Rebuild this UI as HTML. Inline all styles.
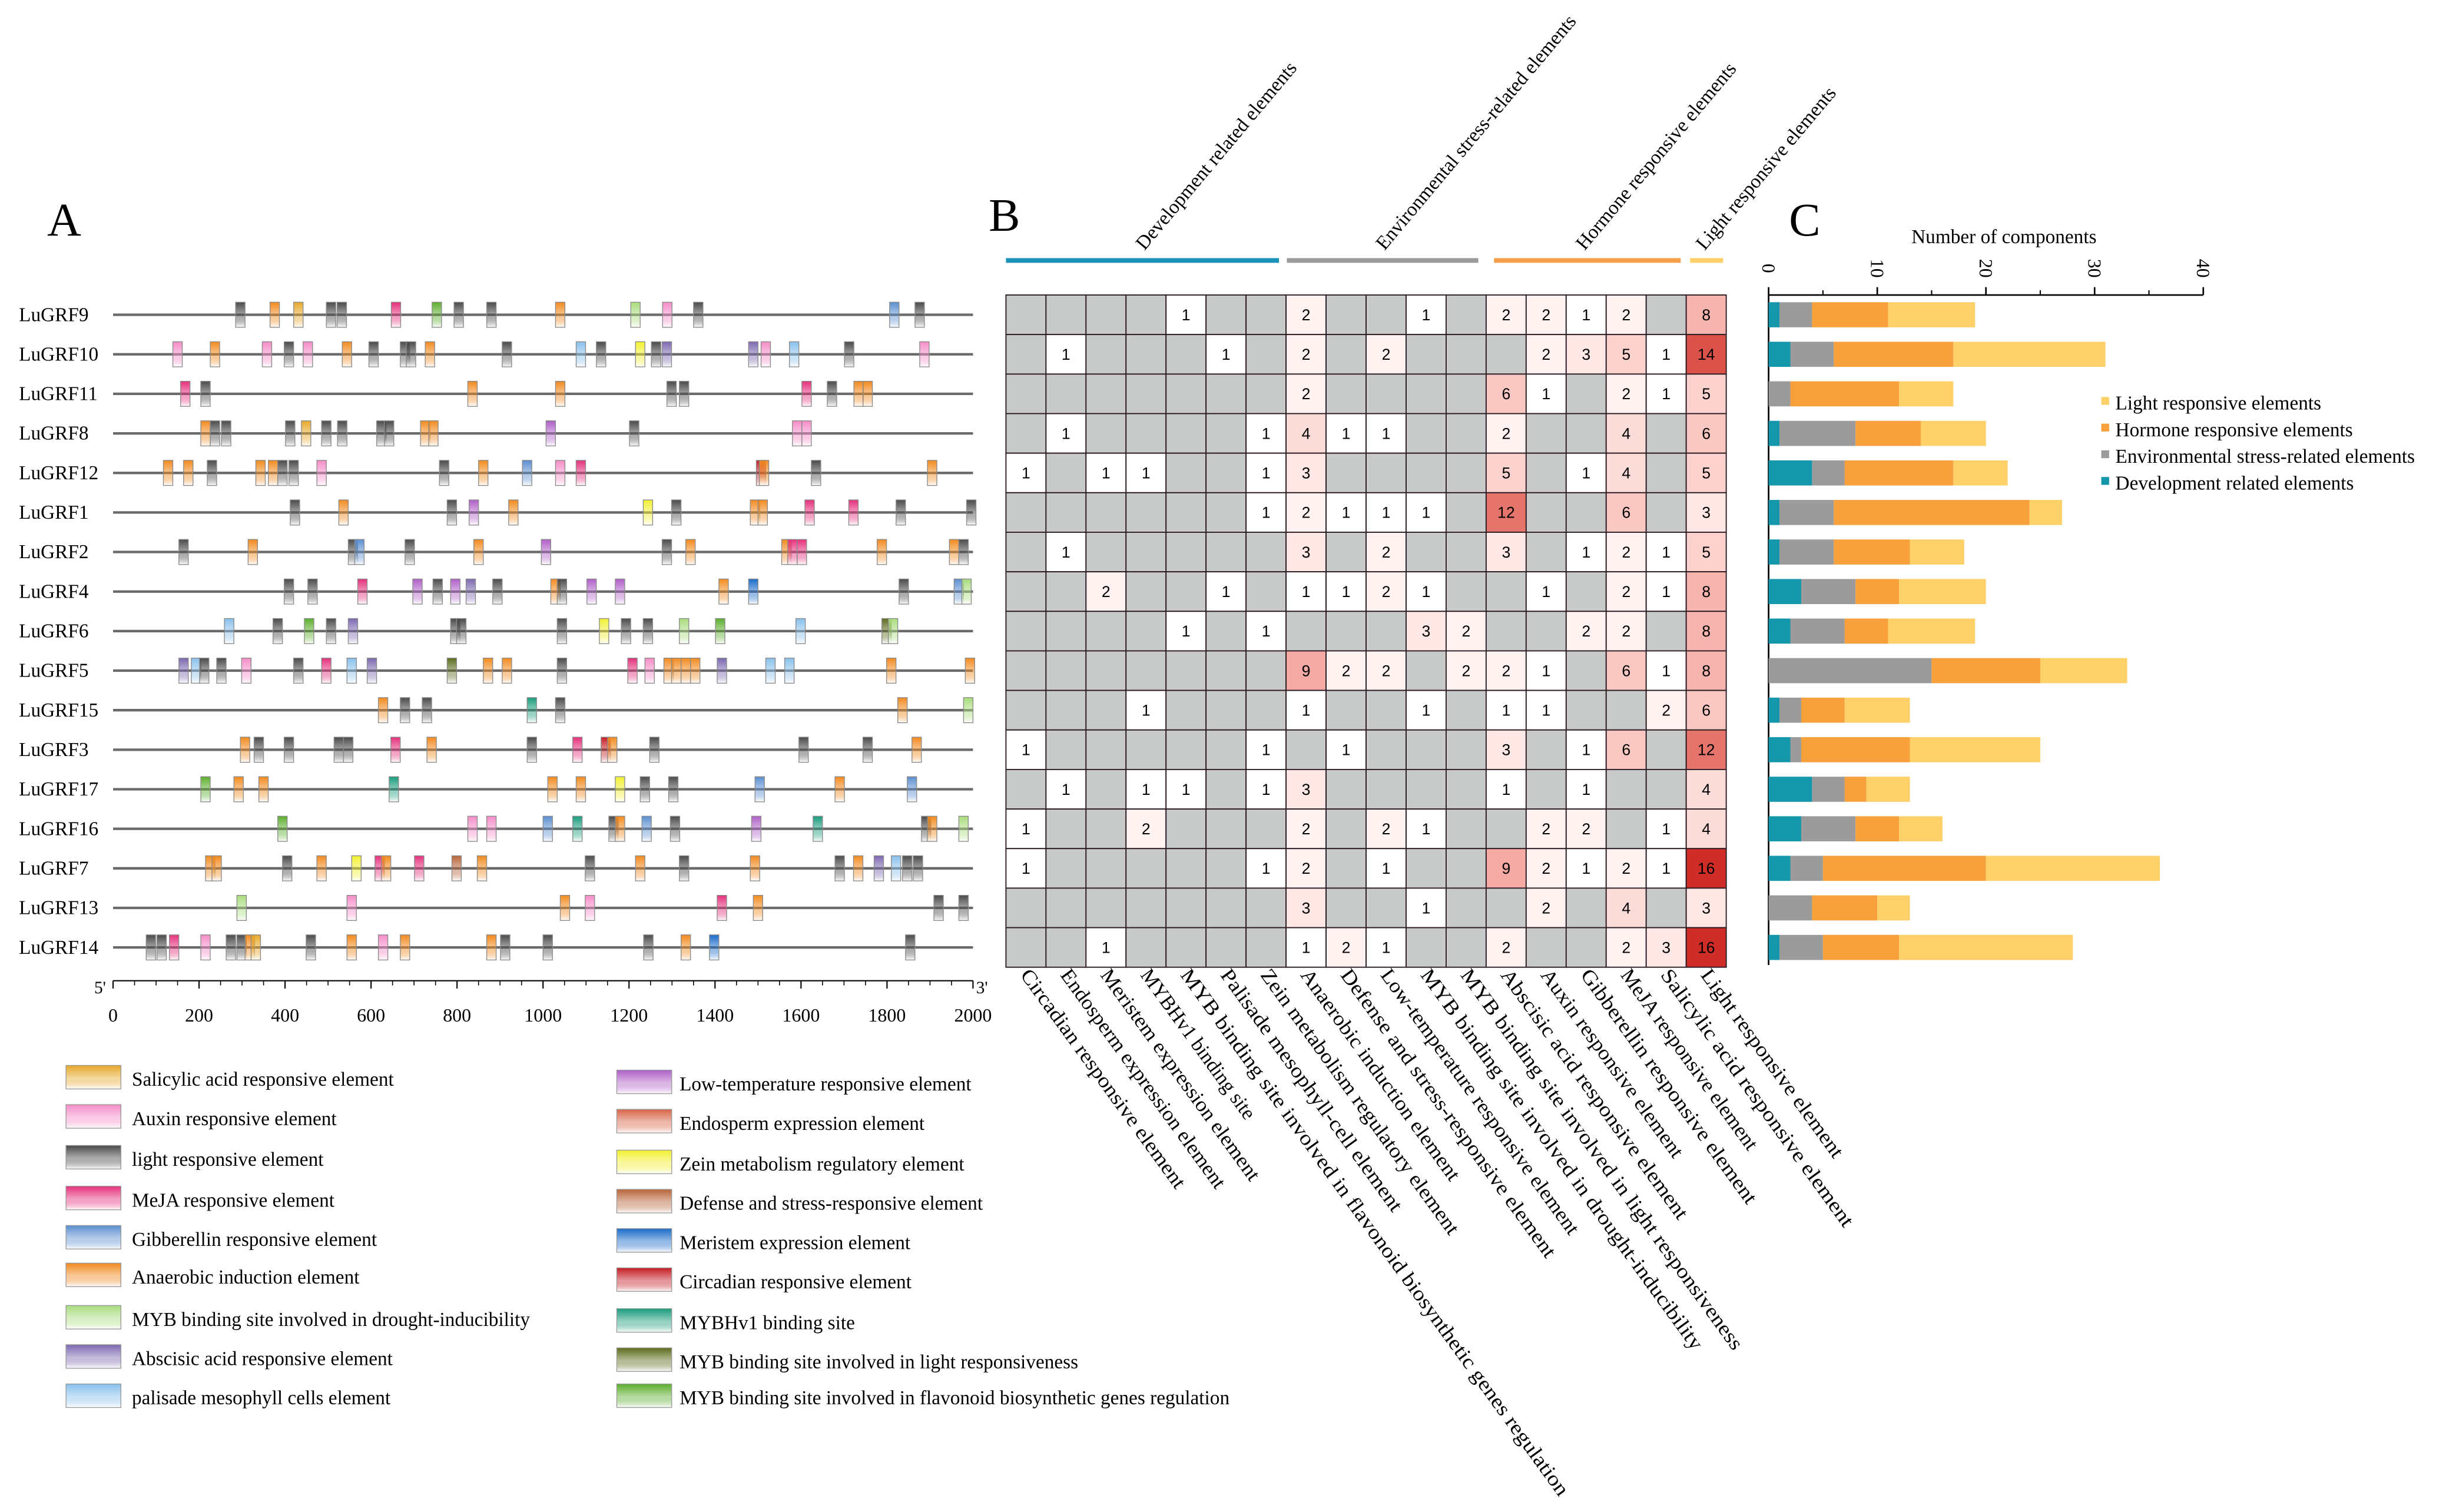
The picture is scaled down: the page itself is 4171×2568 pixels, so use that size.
<!DOCTYPE html>
<html><head><meta charset="utf-8">
<style>
html,body{margin:0;padding:0;background:#fff;overflow:hidden;}
svg{display:block;}
text{font-family:"Liberation Serif",serif;fill:#000;}
.num{font-family:"Liberation Sans",sans-serif;font-size:10px;text-anchor:middle;}
</style></head>
<body>
<svg id="fig" xmlns="http://www.w3.org/2000/svg" width="4171" height="2568" viewBox="0 0 1565 963.6">
<defs id="defs"></defs>
<text x="30" y="150" font-size="30">A</text>
<text x="630" y="147" font-size="30">B</text>
<text x="1140" y="150" font-size="30">C</text>
<g id="panelA"></g>
<g id="legendA"></g>
<g id="panelB"></g>
<g id="panelC"></g>
</svg>
<script>
const genes=["LuGRF9","LuGRF10","LuGRF11","LuGRF8","LuGRF12","LuGRF1","LuGRF2","LuGRF4","LuGRF6","LuGRF5","LuGRF15","LuGRF3","LuGRF17","LuGRF16","LuGRF7","LuGRF13","LuGRF14"];
const elementTypes=["sal","aux","light","meja","gib","anaer","mybdrought","aba","palisade","lowtemp","endo","zein","defense","meri","circ","mybhv1","myblight","flav"];
const typeLabels=["Salicylic acid responsive element","Auxin responsive element","light responsive element","MeJA responsive element","Gibberellin responsive element","Anaerobic induction element","MYB binding site involved in drought-inducibility","Abscisic acid responsive element","palisade mesophyll cells element","Low-temperature responsive element","Endosperm expression element","Zein metabolism regulatory element","Defense and stress-responsive element","Meristem expression element","Circadian responsive element","MYBHv1 binding site","MYB binding site involved in light responsiveness","MYB binding site involved in flavonoid biosynthetic genes regulation"];
const typeColors=["#e6a82a","#f58cc8","#4a4a4a","#e5307c","#5b8fd0","#f28a1e","#a8dc7c","#7c68b0","#88c0ec","#b060c8","#d86448","#f2f030","#b8643a","#1a6cc8","#c41c24","#1a9c7c","#5c6c1c","#5cae2c"];
const axisTicks=[0,200,400,600,800,1000,1200,1400,1600,1800,2000];
const sitePos=[
[296,376,431,507,532,658,753,804,880,1040,1215,1289,1361,1817,1876],
[150,237,358,409,453,544,606,679,693,737,916,1088,1135,1226,1263,1288,1489,1518,1584,1712,1887],
[168,215,836,1040,1299,1328,1613,1672,1734,1755],
[215,237,263,412,449,496,533,624,642,726,745,1018,1212,1591,1613],
[128,175,230,343,372,394,420,485,770,861,963,1040,1088,1507,1514,1635,1905],
[423,536,788,839,931,1244,1310,1493,1511,1620,1722,1832,1996],
[164,325,558,573,690,850,1007,1288,1343,1566,1580,1602,1788,1956,1978],
[409,464,580,708,755,796,832,894,1029,1044,1113,1179,1420,1489,1839,1967,1985],
[270,383,456,507,558,796,810,1044,1142,1193,1244,1328,1412,1599,1799,1814],
[164,193,212,252,310,431,496,555,602,788,872,916,1044,1208,1248,1292,1310,1332,1354,1416,1529,1573,1810,1993],
[628,679,730,974,1040,1836,1989],
[307,339,409,525,547,657,741,974,1080,1146,1161,1259,1606,1755,1869],
[215,292,350,653,1022,1088,1179,1237,1303,1504,1690,1858],
[394,836,880,1011,1080,1164,1179,1241,1307,1496,1639,1891,1905,1978],
[226,241,405,485,566,620,635,712,799,858,1109,1226,1328,1493,1690,1733,1781,1821,1847,1872],
[299,555,1051,1109,1416,1500,1920,1978],
[88,113,142,215,274,299,318,332,460,555,628,679,880,912,1011,1245,1332,1398,1854]
];
const siteType=[
[2,5,0,2,2,3,17,2,2,5,6,1,2,4,2],
[1,5,1,2,1,5,2,2,2,5,2,8,2,11,2,7,7,1,8,2,1],
[3,2,5,5,2,2,3,2,5,5],
[5,2,2,2,0,2,2,2,2,5,5,9,2,1,1],
[5,5,2,5,5,2,2,1,2,5,4,1,3,14,5,2,5],
[2,5,2,9,5,11,2,5,5,3,3,2,2],
[2,5,2,4,2,5,9,2,5,5,3,3,5,5,2],
[2,2,3,9,2,9,7,2,5,2,9,9,5,13,2,4,6],
[8,2,17,2,7,2,2,2,11,2,2,6,17,8,16,6],
[7,8,2,2,1,2,3,8,7,16,5,5,2,3,1,5,5,5,5,7,8,8,5,5],
[5,2,2,15,2,5,6],
[5,2,2,2,2,3,5,2,3,14,5,2,2,2,5],
[17,5,5,15,5,5,11,2,2,4,5,4],
[17,1,1,4,15,2,5,4,2,9,15,2,5,6],
[5,5,2,5,11,3,5,3,12,5,2,5,2,5,2,5,7,8,2,2],
[6,1,5,1,3,5,2,2],
[2,2,3,1,2,2,5,0,2,5,1,5,5,2,2,2,5,13,2]
];
const colLabels=["Circadian responsive element","Endosperm expression element","Meristem expression element","MYBHv1 binding site","MYB binding site involved in flavonoid biosynthetic genes regulation","Palisade mesophyll-cell element","Zein metabolism regulatory element","Anaerobic induction element","Defense and stress-responsive element","Low-temperature responsive element","MYB binding site involved in drought-inducibility","MYB binding site involved in light responsiveness","Abscisic acid responsive element","Auxin responsive element","Gibberellin responsive element","MeJA responsive element","Salicylic acid responsive element","Light responsive element"];
const groupNames=["Development related elements","Environmental stress-related elements","Hormone responsive elements","Light responsive elements"];
const groupCols=[[0,6],[7,11],[12,16],[17,17]];
const groupColors=["#1b93b8","#9a9a9a","#f4a04a","#ffcf6a"];
const counts=[
[0,0,0,0,1,0,0,2,0,0,1,0,2,2,1,2,0,8],
[0,1,0,0,0,1,0,2,0,2,0,0,0,2,3,5,1,14],
[0,0,0,0,0,0,0,2,0,0,0,0,6,1,0,2,1,5],
[0,1,0,0,0,0,1,4,1,1,0,0,2,0,0,4,0,6],
[1,0,1,1,0,0,1,3,0,0,0,0,5,0,1,4,0,5],
[0,0,0,0,0,0,1,2,1,1,1,0,12,0,0,6,0,3],
[0,1,0,0,0,0,0,3,0,2,0,0,3,0,1,2,1,5],
[0,0,2,0,0,1,0,1,1,2,1,0,0,1,0,2,1,8],
[0,0,0,0,1,0,1,0,0,0,3,2,0,0,2,2,0,8],
[0,0,0,0,0,0,0,9,2,2,0,2,2,1,0,6,1,8],
[0,0,0,1,0,0,0,1,0,0,1,0,1,1,0,0,2,6],
[1,0,0,0,0,0,1,0,1,0,0,0,3,0,1,6,0,12],
[0,1,0,1,1,0,1,3,0,0,0,0,1,0,1,0,0,4],
[1,0,0,2,0,0,0,2,0,2,1,0,0,2,2,0,1,4],
[1,0,0,0,0,0,1,2,0,1,0,0,9,2,1,2,1,16],
[0,0,0,0,0,0,0,3,0,0,1,0,0,2,0,4,0,3],
[0,0,1,0,0,0,0,1,2,1,0,0,2,0,0,2,3,16]
];
const devValues=[1,2,0,1,4,1,1,3,2,0,1,2,4,3,2,0,1];
const envValues=[3,4,2,7,3,5,5,5,5,15,2,1,3,5,3,4,4];
const hormoneValues=[7,11,10,6,10,18,7,4,4,10,4,10,2,4,15,6,7];
const lightValues=[8,14,5,6,5,3,5,8,8,8,6,12,4,4,16,3,16];
const cTicks=[0,10,20,30,40];
const cSeriesNames=["Light responsive elements","Hormone responsive elements","Environmental stress-related elements","Development related elements"];

const NS="http://www.w3.org/2000/svg";
function mk(tag,attrs,parent){const e=document.createElementNS(NS,tag);for(const k in attrs)e.setAttribute(k,attrs[k]);parent.appendChild(e);return e;}
const defs=document.getElementById('defs');
typeColors.forEach((c,i)=>{const g=mk('linearGradient',{id:'g'+i,x1:0,y1:0,x2:0,y2:1},defs);mk('stop',{offset:'0','stop-color':c},g);mk('stop',{offset:'0.55','stop-color':c,'stop-opacity':'0.45'},g);mk('stop',{offset:'1','stop-color':'#fff'},g);});

const top0=188, rowH=25.2;
const rowY=i=>top0+rowH*(i+0.5);
const A=document.getElementById('panelA');
const xA=bp=>72+bp*(620-72)/2000;
genes.forEach((gname,i)=>{
  const y=rowY(i);
  const t=mk('text',{x:12,y:y+4,'font-size':12.5},A);t.textContent=gname;
  
  
  const ln=mk('line',{x1:xA(0),x2:xA(2000),y1:y,y2:y,stroke:'#6a6a6a','stroke-width':1.6},A);
  
  
  sitePos[i].forEach((p,j)=>{
    const r=mk('rect',{x:xA(p)-3,y:y-8,width:6,height:16,fill:'url(#g'+siteType[i][j]+')',stroke:'#8a8a8a','stroke-width':0.5},A);
    
    
  });
});
const axY=625;
mk('line',{x1:xA(0),x2:xA(2000),y1:axY,y2:axY,stroke:'#000','stroke-width':0.8},A);
axisTicks.forEach((t,k)=>{
  mk('line',{x1:xA(t),x2:xA(t),y1:axY,y2:axY+5,stroke:'#000','stroke-width':0.8},A);
  for(let m=1;m<4&&k<axisTicks.length-1;m++){mk('line',{x1:xA(t+50*m),x2:xA(t+50*m),y1:axY,y2:axY+3,stroke:'#000','stroke-width':0.6},A);}
  const tx=mk('text',{x:xA(t),y:651,'font-size':12,'text-anchor':'middle'},A);tx.textContent=t;
  
  
});
let e5=mk('text',{x:60,y:633,'font-size':11},A);e5.textContent="5'";
let e3=mk('text',{x:622,y:633,'font-size':11},A);e3.textContent="3'";
const L=document.getElementById('legendA');
const legOrder=[[0,1,2,3,4,5,6,7,8],[9,10,11,12,13,14,15,16,17]];
const legY=[[689,714,740,766,791,815,842,867,892],[692,717,743,768,793,818,844,869,892]];
legOrder.forEach((col,c)=>{col.forEach((ti,k)=>{
  const bx=c?393:42, tx=c?433:84, y=legY[c][k];
  const r=mk('rect',{x:bx,y:y-10,width:35,height:15,fill:'url(#g'+ti+')',stroke:'#999','stroke-width':0.5},L);
  
  
  const t=mk('text',{x:tx,y:y+3,'font-size':12.5},L);t.textContent=typeLabels[ti];
  
  
});});

const B=document.getElementById('panelB');
const bx0=641, colW=25.5;
const colX=j=>bx0+colW*j;
function heatColor(v){
  if(v===0)return '#c8c9c9';
  const stops=[[1,[255,255,255]],[2,[255,242,240]],[4,[252,220,216]],[6,[249,200,195]],[9,[245,170,163]],[12,[229,117,108]],[16,[207,46,40]]];
  for(let i=1;i<stops.length;i++){if(v<=stops[i][0]){const[a,ca]=stops[i-1],[b,cb]=stops[i];const f=(v-a)/(b-a);return 'rgb('+ca.map((x,k)=>Math.round(x+(cb[k]-x)*f)).join(',')+')';}}
  return 'rgb(207,46,40)';
}
counts.forEach((row,i)=>{row.forEach((v,j)=>{
  const r=mk('rect',{x:colX(j),y:top0+rowH*i,width:colW,height:rowH,fill:heatColor(v),stroke:'#2a1a22','stroke-width':0.7},B);
  
  
  if(v>0){const t=mk('text',{class:'num',x:colX(j)+colW/2,y:rowY(i)+3.5},B);t.textContent=v;
    
    }
});});
colLabels.forEach((lab,j)=>{
  const x=colX(j)+colW/2-4, y=top0+rowH*counts.length+5;
  const t=mk('text',{x:0,y:0,'font-size':13,transform:`translate(${x},${y}) rotate(54)`,textLength:lab.length*6.05,lengthAdjust:'spacingAndGlyphs'},B);
  t.textContent=lab;
  
  
});
const grpLine=[[641,815],[820,942],[952,1071],[1077,1098]];
groupNames.forEach((g,k)=>{
  const ln=mk('line',{x1:grpLine[k][0],x2:grpLine[k][1],y1:166,y2:166,stroke:groupColors[k],'stroke-width':3},B);
  
  
  const cx=(colX(groupCols[k][0])+colX(groupCols[k][1]+1))/2;
  const t=mk('text',{x:0,y:0,'font-size':12.5,transform:`translate(${cx-1},${160}) rotate(-50)`},B);t.textContent=g;
  
  
});

const C=document.getElementById('panelC');
const cx0=1127, cx1=1404, cMax=40;
const xC=v=>cx0+v*(cx1-cx0)/cMax;
const axC=188;
mk('line',{x1:cx0,x2:cx1,y1:axC,y2:axC,stroke:'#000','stroke-width':1},C);
mk('line',{x1:cx0,x2:cx0,y1:axC,y2:615,stroke:'#000','stroke-width':1},C);
cTicks.forEach(t=>{
  mk('line',{x1:xC(t),x2:xC(t),y1:axC,y2:axC-5,stroke:'#000','stroke-width':1},C);
  if(t<cMax)mk('line',{x1:xC(t+5),x2:xC(t+5),y1:axC,y2:axC-3,stroke:'#000','stroke-width':0.8},C);
  const tx=mk('text',{x:0,y:0,'font-size':12,transform:`translate(${xC(t)-4},${171}) rotate(90)`,'text-anchor':'middle'},C);tx.textContent=t;
  
  
});
const ct=mk('text',{x:1277,y:155,'font-size':12.5,'text-anchor':'middle'},C);ct.textContent="Number of components";


const cCols=["#1496ab","#9b9b9b","#f7a03c","#fdd06a"];
genes.forEach((g,i)=>{
  const segs=[devValues[i],envValues[i],hormoneValues[i],lightValues[i]];
  let acc=0;
  segs.forEach((v,k)=>{
    if(v>0){const r=mk('rect',{x:xC(acc),y:rowY(i)-8,width:xC(acc+v)-xC(acc),height:16,fill:cCols[k]},C);
      
      }
    acc+=v;
  });
});
const legCY=[257,274,291,308], legCC=[cCols[3],cCols[2],cCols[1],cCols[0]];
cSeriesNames.forEach((n,k)=>{
  mk('rect',{x:1339,y:legCY[k]-4,width:5,height:5,fill:legCC[k]},C);
  const t=mk('text',{x:1348,y:legCY[k]+4,'font-size':12.5},C);t.textContent=n;
  
  
});
</script>
</body></html>
